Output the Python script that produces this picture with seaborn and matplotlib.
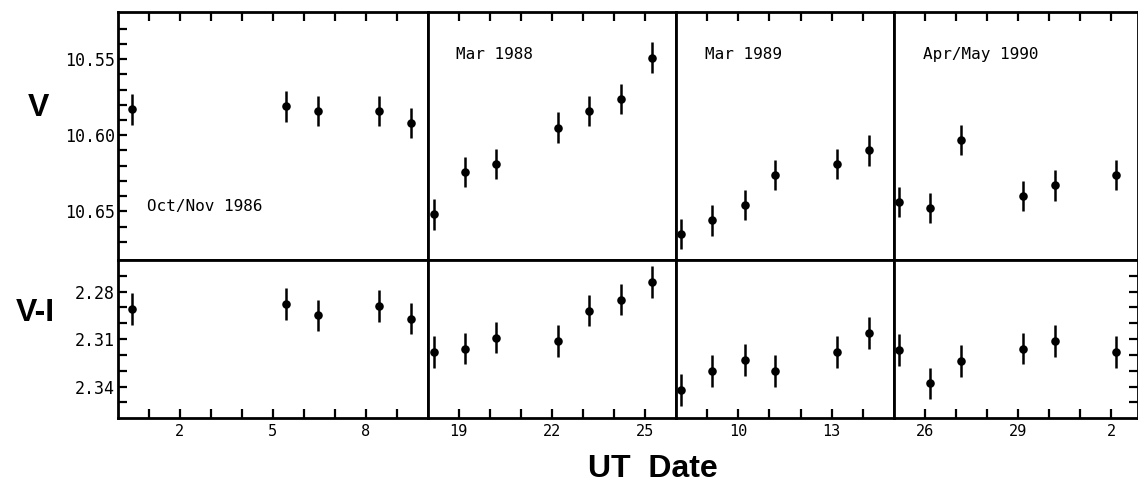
import matplotlib
matplotlib.use("Agg")
import matplotlib.pyplot as plt
import seaborn as sns
import pandas as pd

# ---------------- data ----------------
season_labels = ["Oct/Nov 1986", "Mar 1988", "Mar 1989", "Apr/May 1990"]

days_1986 = [0.46, 5.44, 6.46, 8.42, 9.47]
v_1986 = [10.583, 10.581, 10.584, 10.584, 10.592]
vi_1986 = [2.291, 2.288, 2.295, 2.289, 2.297]

days_1988 = [18.20, 19.22, 20.22, 22.20, 23.21, 24.22, 25.23]
v_1988 = [10.652, 10.624, 10.619, 10.595, 10.584, 10.576, 10.549]
vi_1988 = [2.318, 2.316, 2.309, 2.311, 2.292, 2.285, 2.274]

days_1989 = [8.15, 9.15, 10.20, 11.17, 13.17, 14.19]
v_1989 = [10.665, 10.656, 10.646, 10.626, 10.619, 10.610]
vi_1989 = [2.342, 2.330, 2.323, 2.330, 2.318, 2.306]

# Apr days; May 1 = 31, May 2 = 32
days_1990 = [25.17, 26.15, 27.17, 29.15, 30.18, 32.17]
v_1990 = [10.644, 10.648, 10.603, 10.640, 10.633, 10.626]
vi_1990 = [2.317, 2.338, 2.324, 2.316, 2.311, 2.318]

v_err = 0.010
vi_err = 0.010

x_limits = [(0, 10), (18, 26), (8, 15), (25, 32.85)]
x_ticks = [list(range(1, 10)), list(range(19, 26)), list(range(9, 15)), list(range(26, 33))]
x_ticklabels = [{2: "2", 5: "5", 8: "8"}, {19: "19", 22: "22", 25: "25"},
                {10: "10", 13: "13"}, {26: "26", 29: "29", 32: "2"}]

v_ticks = [10.55, 10.60, 10.65]
v_minor = [10.53, 10.54, 10.55, 10.56, 10.57, 10.58, 10.59, 10.60, 10.61,
           10.62, 10.63, 10.64, 10.65, 10.66, 10.67]
vi_ticks = [2.28, 2.31, 2.34]
vi_minor = [2.27, 2.28, 2.29, 2.30, 2.31, 2.32, 2.33, 2.34, 2.35]

seasons = [
    (days_1986, v_1986, vi_1986),
    (days_1988, v_1988, vi_1988),
    (days_1989, v_1989, vi_1989),
    (days_1990, v_1990, vi_1990),
]

# ---------------- style ----------------
sns.set_theme(style="white")
plt.rcParams["font.family"] = ["DejaVu Sans Mono"]
for key in ["text.color", "axes.labelcolor", "xtick.color", "ytick.color",
            "xtick.labelcolor", "ytick.labelcolor", "axes.edgecolor"]:
    plt.rcParams[key] = "black"

W, H = 1138, 484
fig = plt.figure(figsize=(W / 100, H / 100), dpi=100)

col_edges = [118, 427.5, 676, 894, 1137.5]
top_row = (12, 260)
bot_row = (260, 418)


def rect(x0, x1, y0, y1):
    return [x0 / W, 1 - y1 / H, (x1 - x0) / W, (y1 - y0) / H]


SPINE_LW = 2.0
TICK_KW = dict(direction="in", length=6.5, width=1.6, color="black")

for i, (days, v, vi) in enumerate(seasons):
    ax_top = fig.add_axes(rect(col_edges[i], col_edges[i + 1], *top_row))
    ax_bot = fig.add_axes(rect(col_edges[i], col_edges[i + 1], *bot_row))

    df = pd.DataFrame({"day": days, "V": v, "VI": vi})

    for ax, col, err, lims in [(ax_top, "V", v_err, (10.682, 10.519)),
                               (ax_bot, "VI", vi_err, (2.3598, 2.2600))]:
        ax.errorbar(df["day"], df[col], yerr=err, fmt="none", ecolor="black",
                    elinewidth=1.8, capsize=0, zorder=2)
        sns.scatterplot(data=df, x="day", y=col, ax=ax, color="black", s=38,
                        linewidth=0, zorder=3, legend=False)
        ax.set_xlim(*x_limits[i])
        ax.set_ylim(*lims)
        ax.set_xlabel("")
        ax.set_ylabel("")
        ax.set_facecolor("white")
        for sp in ax.spines.values():
            sp.set_visible(True)
            sp.set_color("black")
            sp.set_linewidth(SPINE_LW)
        ax.set_xticks(x_ticks[i])

    # top row: x ticks on the top, inward, no labels
    ax_top.tick_params(axis="x", which="both", top=True, bottom=False,
                       labeltop=False, labelbottom=False, **TICK_KW)
    # bottom row: x ticks on the bottom with labels
    ax_bot.set_xticklabels([x_ticklabels[i].get(t, "") for t in x_ticks[i]])
    ax_bot.tick_params(axis="x", which="both", top=False, bottom=True,
                       labelbottom=True, pad=4.5, labelsize=11, **TICK_KW)

    if i == 0:
        ax_top.set_yticks(v_minor)
        ax_top.set_yticklabels([f"{t:.2f}" if any(abs(t - m) < 1e-6 for m in v_ticks) else ""
                                for t in v_minor])
        ax_bot.set_yticks(vi_minor)
        ax_bot.set_yticklabels([f"{t:.2f}" if any(abs(t - m) < 1e-6 for m in vi_ticks) else ""
                                for t in vi_minor])
        for ax in (ax_top, ax_bot):
            ax.tick_params(axis="y", left=True, right=False, labelleft=True,
                           pad=2, labelsize=12, **TICK_KW)
    elif i == 3:
        ax_top.set_yticks([])
        ax_top.tick_params(axis="y", left=False, right=False, labelleft=False)
        ax_bot.set_yticks(vi_minor)
        ax_bot.tick_params(axis="y", left=False, right=True, labelleft=False,
                           labelright=False, **TICK_KW)
    else:
        for ax in (ax_top, ax_bot):
            ax.set_yticks([])
            ax.tick_params(axis="y", left=False, right=False, labelleft=False)

    label_pos = [(0.094, 0.214), (0.115, 0.827), (0.134, 0.827), (0.12, 0.827)][i]
    ax_top.text(label_pos[0], label_pos[1], season_labels[i], transform=ax_top.transAxes,
                ha="left", va="center", fontsize=11.5, color="black")

big_font = ["Liberation Sans", "DejaVu Sans"]
fig.text(38 / W, 1 - 108 / H, "V", ha="center", va="center", fontsize=23,
         fontweight="bold", family=big_font, color="black")
fig.text(35 / W, 1 - 313 / H, "V-I", ha="center", va="center", fontsize=23,
         fontweight="bold", family=big_font, color="black")
fig.text(653 / W, 1 - 477 / H, "UT  Date", ha="center", va="baseline", fontsize=23,
         fontweight="bold", family=big_font, color="black")

fig.savefig("out.png", dpi=100, facecolor="white")
